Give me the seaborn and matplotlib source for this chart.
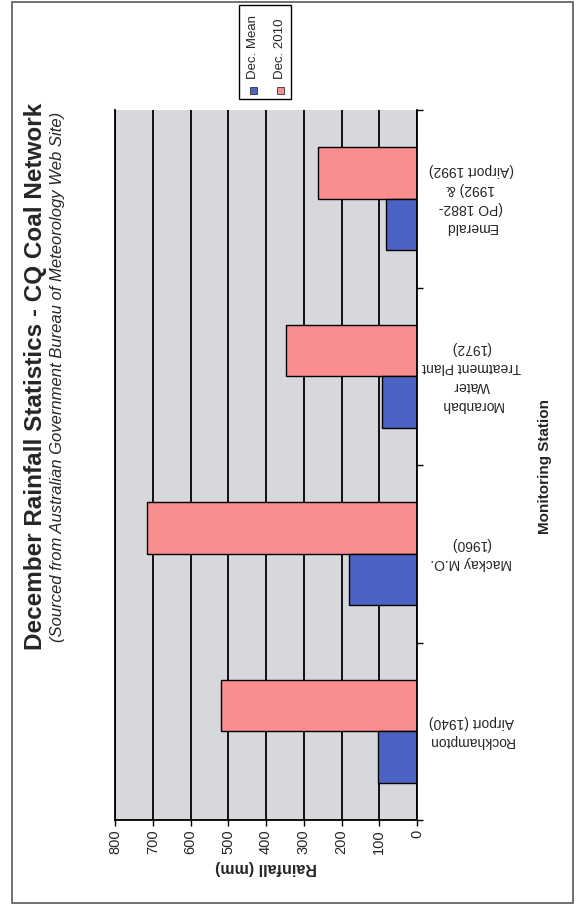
import seaborn as sns
import matplotlib.pyplot as plt
import pandas as pd
from matplotlib.patches import Rectangle
from matplotlib.ticker import FixedLocator

# data (top to bottom as drawn)
stations = ["Emerald\n(PO 1882-\n1992) &\n(Airport 1992)",
            "Moranbah\nWater\nTreatment Plant\n(1972)",
            "Mackay M.O.\n(1960)",
            "Rockhampton\nAirport (1940)"]
dec_mean = [82, 93, 180, 103]
dec_2010 = [263, 346, 715, 520]
series = ["Dec. Mean", "Dec. 2010"]
value_ticks = [0, 100, 200, 300, 400, 500, 600, 700, 800]

colors = {"Dec. Mean": "#4a63c4", "Dec. 2010": "#fa8d8f"}

df = pd.DataFrame({
    "station": stations * 2,
    "series": [series[0]] * len(stations) + [series[1]] * len(stations),
    "rain": dec_mean + dec_2010,
})

sns.set_theme(style="white")
plt.rcParams["font.family"] = ["Liberation Sans", "DejaVu Sans"]

W, H = 576, 909
fig = plt.figure(figsize=(W / 100, H / 100), dpi=100)
ax = fig.add_axes([115 / W, 1 - 820 / H, (417 - 115) / W, (820 - 110) / H])

sns.barplot(data=df, y="station", x="rain", hue="series",
            order=stations, hue_order=[series[1], series[0]],
            palette=colors, orient="h", width=0.58, gap=0,
            saturation=1, edgecolor="black", linewidth=1,
            legend=False, ax=ax)

ax.set_facecolor("#d6d8db")
ax.set_xlim(800, 0)
ax.set_ylim(len(stations) - 0.5, -0.5)

# value axis (bottom)
ax.set_xticks(value_ticks)
ax.set_xticklabels([str(v) for v in value_ticks], rotation=90, fontsize=10.5)
ax.tick_params(axis="x", which="major", bottom=True, direction="out",
               length=4, width=1, color="black", pad=3)
ax.xaxis.grid(True, color="black", linewidth=1.3)
ax.set_axisbelow(True)
ax.set_xlabel("Rainfall (mm)", rotation=180, fontsize=11.5, fontweight="bold",
              labelpad=4)

# category axis (right)
ax.yaxis.tick_right()
ax.set_yticks(range(len(stations)))
ax.set_yticklabels(stations, rotation=180, ha="center", va="center",
                   multialignment="center", linespacing=1.45, fontsize=10)
ax.tick_params(axis="y", which="major", length=0, pad=39)
ax.yaxis.set_minor_locator(FixedLocator([-0.5, 0.5, 1.5, 2.5, 3.5]))
ax.tick_params(axis="y", which="minor", right=True, left=False,
               direction="out", length=4, width=1, color="black")
ax.set_ylabel("")

for s in ["left", "right", "bottom"]:
    ax.spines[s].set_color("black")
    ax.spines[s].set_linewidth(1.3)
ax.spines["top"].set_visible(False)

fig.text(545 / W, 1 - 467 / H, "Monitoring Station", rotation=90,
         ha="center", va="center", fontsize=11, fontweight="bold")

# titles
fig.text(36 / W, 1 - 376 / H, "December Rainfall Statistics - CQ Coal Network",
         rotation=90, ha="center", va="center", fontsize=17.5, fontweight="bold")
fig.text(58 / W, 1 - 377 / H,
         "(Sourced from Australian Government Bureau of Meteorology Web Site)",
         rotation=90, ha="center", va="center", fontsize=12, fontstyle="italic")

# legend drawn by hand because its text is turned
fig.patches.append(Rectangle((239 / W, 1 - 99 / H), 52 / W, 94 / H,
                             transform=fig.transFigure, facecolor="white",
                             edgecolor="black", linewidth=1))
for i, name in enumerate(series):
    x = 253 + i * 27
    fig.patches.append(Rectangle(((x - 3.5) / W, 1 - 94 / H), 7 / W, 7 / H,
                                 transform=fig.transFigure,
                                 facecolor=colors[name], edgecolor="#333333",
                                 linewidth=0.6))
    fig.text(x / W, 1 - 79 / H, name, rotation=90, ha="center", va="bottom",
             fontsize=9.5)

# outer frame of the chart
fig.patches.append(Rectangle((12 / W, 1 - 903 / H), 561 / W, 901 / H,
                             transform=fig.transFigure, facecolor="none",
                             edgecolor="#666666", linewidth=1.3))

fig.savefig("out.png", dpi=100)
